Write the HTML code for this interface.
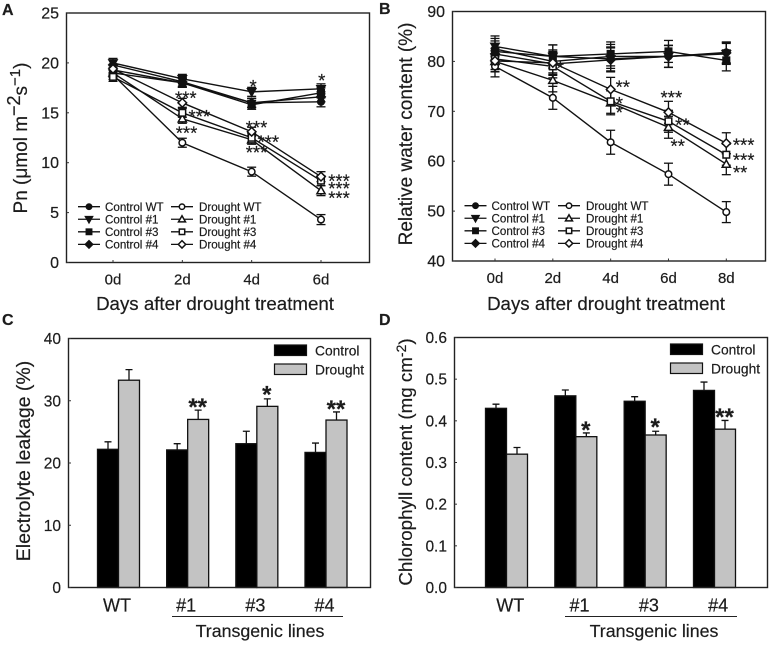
<!DOCTYPE html>
<html lang="en">
<head>
<meta charset="utf-8">
<title>Drought treatment physiology charts</title>
<style>
html,body{margin:0;padding:0;background:#fff;}
svg{display:block;font-family:"Liberation Sans",Arial,sans-serif;fill:#222;}
text{fill:#1c1c1c;stroke:#1c1c1c;stroke-width:.2;}
</style>
</head>
<body>
<svg id="figure" width="774" height="645" viewBox="0 0 774 645" xmlns="http://www.w3.org/2000/svg">
  <rect x="0" y="0" width="774" height="645" fill="#fff"/>
  <g id="panel-a"></g>
  <g id="panel-b"></g>
  <g id="panel-c"></g>
  <g id="panel-d"></g>

  <text x="2" y="15" font-size="16" font-weight="bold">A</text>
  <text x="379" y="14" font-size="16" font-weight="bold">B</text>
  <text x="2" y="325" font-size="16" font-weight="bold">C</text>
  <text x="379" y="325" font-size="16" font-weight="bold">D</text>

  <text transform="translate(27,138) rotate(-90)" text-anchor="middle" font-size="19">Pn (μmol m<tspan dy="-7" font-size="18">−2</tspan><tspan dy="7">s</tspan><tspan dy="-7" font-size="15">−1</tspan><tspan dy="7">)</tspan></text>
  <text x="215" y="310" text-anchor="middle" font-size="18.7">Days after drought treatment</text>

  <text transform="translate(412,134) rotate(-90)" text-anchor="middle" font-size="19">Relative water content (%)</text>
  <text x="606" y="310" text-anchor="middle" font-size="18.7">Days after drought treatment</text>

  <text transform="translate(30,461) rotate(-90)" text-anchor="middle" font-size="19.5">Electrolyte leakage (%)</text>
  <line x1="172" x2="343" y1="616.5" y2="616.5" stroke="#222" stroke-width="1"/>
  <text x="260" y="637" text-anchor="middle" font-size="17.8">Transgenic lines</text>

  <text transform="translate(412,462) rotate(-90)" text-anchor="middle" font-size="18.8">Chlorophyll content (mg cm<tspan dy="-6" font-size="14">-2</tspan><tspan dy="6">)</tspan></text>
  <line x1="565" x2="737" y1="616.5" y2="616.5" stroke="#222" stroke-width="1"/>
  <text x="654" y="637" text-anchor="middle" font-size="17.8">Transgenic lines</text>
</svg>

<script>
const seriesNames = ['Control WT','Control #1','Control #3','Control #4','Drought WT','Drought #1','Drought #3','Drought #4'];

const daysA = ['0d','2d','4d','6d'];
const ticksA = [0,5,10,15,20,25];
const controlWtA = [19.3,18.0,16.0,16.1];
const control1A = [20.0,18.4,17.1,17.4];
const control3A = [19.0,18.0,15.8,17.0];
const control4A = [19.8,18.1,16.0,16.6];
const droughtWtA = [18.8,12.0,9.1,4.3];
const drought1A = [19.0,14.4,12.3,7.2];
const drought3A = [18.6,15.0,12.5,8.2];
const drought4A = [19.4,16.0,13.1,8.6];
const errorsA = [0.45,0.45,0.45,0.5];
const starLabelsA = ['***','***','***','***','***','***','*','*','***','***','***'];
const starCatsA = [1.05,1.245,1.06,2.07,2.24,2.07,2.02,3.01,3.26,3.26,3.26];
const starValsA = [16.8,14.95,13.3,13.85,12.35,11.3,17.95,18.55,8.45,7.7,6.78];

const daysB = ['0d','2d','4d','6d','8d'];
const ticksB = [40,50,60,70,80,90];
const controlWtB = [82.5,80.0,81.0,81.0,81.8];
const control1B = [83.0,81.0,80.5,81.0,81.5];
const control3B = [82.0,81.0,81.5,82.0,80.2];
const control4B = [81.5,79.5,80.3,81.0,81.7];
const droughtWtB = [79.0,72.7,63.8,57.4,49.8];
const drought1B = [80.0,76.2,71.7,66.8,59.4];
const drought3B = [80.5,79.0,72.0,68.0,61.3];
const drought4B = [80.1,79.7,74.4,69.8,63.6];
const errorsB = [2.1,2.3,2.4,2.2,2.1];
const starLabelsB = ['**','*','*','***','**','**','***','***','**','*'];
const starCatsB = [2.21,2.15,2.15,3.05,3.24,3.16,4.3,4.3,4.24,1.13];
const starValsB = [75.45,72.2,70.4,73.4,67.9,63.6,63.8,60.8,58.3,79.3];

const linesC = ['WT','#1','#3','#4'];
const ticksC = [0,10,20,30,40];
const controlC = [22.2,22.1,23.1,21.7];
const controlErrC = [1.2,1.0,2.0,1.5];
const droughtC = [33.3,27.0,29.1,26.9];
const droughtErrC = [1.7,1.5,1.2,1.3];
const starsC = ['','**','*','**'];
const starValsC = [0,29.7,31.7,29.4];

const linesD = ['WT','#1','#3','#4'];
const ticksD = [0,0.1,0.2,0.3,0.4,0.5,0.6];
const controlD = [0.43,0.46,0.447,0.473];
const controlErrD = [0.01,0.014,0.011,0.02];
const droughtD = [0.32,0.362,0.366,0.38];
const droughtErrD = [0.016,0.009,0.009,0.021];
const starsD = ['','*','*','**'];
const starValsD = [0,0.3885,0.396,0.42];

const NS = 'http://www.w3.org/2000/svg';
const INK = '#111';

function make(parent, tag, attrs, content) {
  const el = document.createElementNS(NS, tag);
  for (const k in attrs) el.setAttribute(k, attrs[k]);
  if (content !== undefined) el.textContent = content;
  parent.appendChild(el);
  return el;
}

function linearScale(d0, d1, r0, r1) {
  return v => r0 + (v - d0) / (d1 - d0) * (r1 - r0);
}

function drawMarker(g, kind, cx, cy, filled, r) {
  const fill = filled ? INK : '#fff';
  const style = {fill: fill, stroke: INK, 'stroke-width': 1.5};
  let m;
  if (kind === 0) {
    m = make(g, 'circle', Object.assign({cx: cx, cy: cy, r: r}, style));
  } else if (kind === 1) {
    const s = r + 0.8;
    const pts = filled
      ? [[cx-s,cy-s*0.75],[cx+s,cy-s*0.75],[cx,cy+s]]
      : [[cx-s,cy+s*0.75],[cx+s,cy+s*0.75],[cx,cy-s]];
    m = make(g, 'polygon', Object.assign({points: pts.map(p => p.join(',')).join(' ')}, style));
  } else if (kind === 2) {
    m = make(g, 'rect', Object.assign({x: cx-r, y: cy-r, width: 2*r, height: 2*r}, style));
  } else {
    const s = r + 1;
    const pts = [[cx-s,cy],[cx,cy-s],[cx+s,cy],[cx,cy+s]];
    m = make(g, 'polygon', Object.assign({points: pts.map(p => p.join(',')).join(' ')}, style));
  }
  
  
}

function drawFrame(g, box, ticks, fmt, y, tickFont) {
  const frame = make(g, 'rect', {x: box.l, y: box.t, width: box.r-box.l, height: box.b-box.t, fill: 'none', stroke: '#222', 'stroke-width': 1.4});
  
  
  ticks.forEach(t => {
    const yy = y(t);
    const tick = make(g, 'line', {x1: box.l, x2: box.l+2.5, y1: yy, y2: yy, stroke: '#333', 'stroke-width': 1});
    
    
    const label = make(g, 'text', {x: box.l-7.5, y: yy+5.5, 'text-anchor': 'end', 'font-size': tickFont}, fmt(t));
    
    
  });
}

function drawLegend(g, leg) {
  const rowGap = 12.55;
  seriesNames.forEach((name, i) => {
    const col = i < 4 ? 0 : 1;
    const row = i % 4;
    const yy = leg.y + row * rowGap;
    const x0 = leg.lineX[col];
    const entry = make(g, 'g', {});
    
    
    make(entry, 'line', {x1: x0, x2: x0+22, y1: yy, y2: yy, stroke: INK, 'stroke-width': 1.3});
    drawMarker(entry, row, x0+11, yy, col === 0, 2.7);
    make(entry, 'text', {x: leg.textX[col], y: yy+4.2, 'font-size': 11.6}, name);
  });
}

function drawLineChart(g, cfg) {
  const box = cfg.box;
  const y = linearScale(cfg.ticks[0], cfg.ticks[cfg.ticks.length-1], box.b, box.t);
  const x = linearScale(0, cfg.cats.length-1, cfg.x0, cfg.x1);
  drawFrame(g, box, cfg.ticks, v => String(v), y, 16);
  cfg.cats.forEach((c, i) => {
    const tick = make(g, 'line', {x1: x(i), x2: x(i), y1: box.b, y2: box.b-2.5, stroke: '#333', 'stroke-width': 1});
    
    
    const label = make(g, 'text', {x: x(i), y: box.b+22, 'text-anchor': 'middle', 'font-size': 15}, c);
    
    
  });
  cfg.series.forEach((vals, s) => {
    const sg = make(g, 'g', {});
    
    
    make(sg, 'polyline', {points: vals.map((v, i) => x(i) + ',' + y(v)).join(' '), fill: 'none', stroke: INK, 'stroke-width': 1.4});
    vals.forEach((v, i) => {
      const e = cfg.err[i];
      const xx = x(i);
      make(sg, 'line', {x1: xx, x2: xx, y1: y(v-e), y2: y(v+e), stroke: INK, 'stroke-width': 1.3});
      make(sg, 'line', {x1: xx-4.5, x2: xx+4.5, y1: y(v-e), y2: y(v-e), stroke: INK, 'stroke-width': 1.3});
      make(sg, 'line', {x1: xx-4.5, x2: xx+4.5, y1: y(v+e), y2: y(v+e), stroke: INK, 'stroke-width': 1.3});
    });
  });
  cfg.series.forEach((vals, s) => {
    vals.forEach((v, i) => drawMarker(g, s % 4, x(i), y(v), s < 4, 3.3));
  });
  cfg.starLabels.forEach((t, i) => {
    const star = make(g, 'text', {x: x(cfg.starCats[i]), y: y(cfg.starVals[i]) + 9.5, 'text-anchor': 'middle', 'font-size': 18.5}, t);
    
    
  });
  drawLegend(g, cfg.legend);
}

function drawBarChart(g, cfg) {
  const box = cfg.box;
  const y = linearScale(cfg.ticks[0], cfg.ticks[cfg.ticks.length-1], box.b, box.t);
  const x = linearScale(0, cfg.cats.length-1, cfg.x0, cfg.x1);
  const w = 21;
  cfg.cats.forEach((c, i) => {
    const cx = x(i);
    const groups = [[cfg.control, cfg.controlErr, cx-w, '#000', 'control'], [cfg.drought, cfg.droughtErr, cx, '#c3c3c3', 'drought']];
    groups.forEach(gr => {
      const v = gr[0][i];
      const e = gr[1][i];
      const mid = gr[2] + w/2;
      const errLine = make(g, 'path', {d: 'M' + mid + ' ' + y(v) + 'V' + y(v+e) + 'M' + (mid-3.5) + ' ' + y(v+e) + 'H' + (mid+3.5), fill: 'none', stroke: INK, 'stroke-width': 1.3});
      
      
      const bar = make(g, 'rect', {x: gr[2], y: y(v), width: w, height: box.b - y(v), fill: gr[3], stroke: '#111', 'stroke-width': 1.3});
      
      
    });
    const label = make(g, 'text', {x: cx + cfg.labelDx, y: box.b+24, 'text-anchor': 'middle', 'font-size': 18}, c);
    
    
    if (cfg.stars[i]) {
      const star = make(g, 'text', {x: cx + w/2 - 0.5, y: y(cfg.starVals[i]) + 12.5, 'text-anchor': 'middle', 'font-size': 24, 'font-weight': 'bold'}, cfg.stars[i]);
      
      
    }
  });
  drawFrame(g, box, cfg.ticks, cfg.fmt, y, 15.5);
  const lg = cfg.legend;
  const c1 = make(g, 'rect', {x: lg.x, y: lg.y, width: 32, height: 10.5, fill: '#000', stroke: '#111', 'stroke-width': 1.2});
  
  
  const c2 = make(g, 'rect', {x: lg.x, y: lg.y+19, width: 32, height: 10.5, fill: '#c3c3c3', stroke: '#111', 'stroke-width': 1.2});
  
  
  const t1 = make(g, 'text', {x: lg.x+40.5, y: lg.y+10.5, 'font-size': 13.8}, 'Control');
  
  
  const t2 = make(g, 'text', {x: lg.x+40.5, y: lg.y+29.5, 'font-size': 13.8}, 'Drought');
  
  
}

drawLineChart(document.getElementById('panel-a'), {
  box: {l: 66.5, r: 369.5, t: 13, b: 262.5},
  x0: 113, x1: 321,
  cats: daysA, ticks: ticksA,
  series: [controlWtA, control1A, control3A, control4A, droughtWtA, drought1A, drought3A, drought4A],
  err: errorsA,
  starLabels: starLabelsA, starCats: starCatsA, starVals: starValsA,
  legend: {y: 206.7, lineX: [78, 171], textX: [105, 199]}
});

drawLineChart(document.getElementById('panel-b'), {
  box: {l: 452.5, r: 765.5, t: 11.5, b: 261},
  x0: 495, x1: 726.3,
  cats: daysB, ticks: ticksB,
  series: [controlWtB, control1B, control3B, control4B, droughtWtB, drought1B, drought3B, drought4B],
  err: errorsB,
  starLabels: starLabelsB, starCats: starCatsB, starVals: starValsB,
  legend: {y: 205.7, lineX: [464.5, 558], textX: [491.5, 586]}
});

drawBarChart(document.getElementById('panel-c'), {
  box: {l: 68.5, r: 370.5, t: 338.5, b: 587.5},
  x0: 118.5, x1: 326,
  cats: linesC, ticks: ticksC, fmt: v => String(v),
  control: controlC, controlErr: controlErrC,
  drought: droughtC, droughtErr: droughtErrC,
  stars: starsC, starVals: starValsC,
  labelDx: -1.5,
  legend: {x: 274.5, y: 345}
});

drawBarChart(document.getElementById('panel-d'), {
  box: {l: 454.5, r: 767.5, t: 337.5, b: 587.5},
  x0: 506.5, x1: 714.5,
  cats: linesD, ticks: ticksD, fmt: v => v.toFixed(1),
  control: controlD, controlErr: controlErrD,
  drought: droughtD, droughtErr: droughtErrD,
  stars: starsD, starVals: starValsD,
  labelDx: 3.7,
  legend: {x: 670.5, y: 344}
});
</script>
</body>
</html>
